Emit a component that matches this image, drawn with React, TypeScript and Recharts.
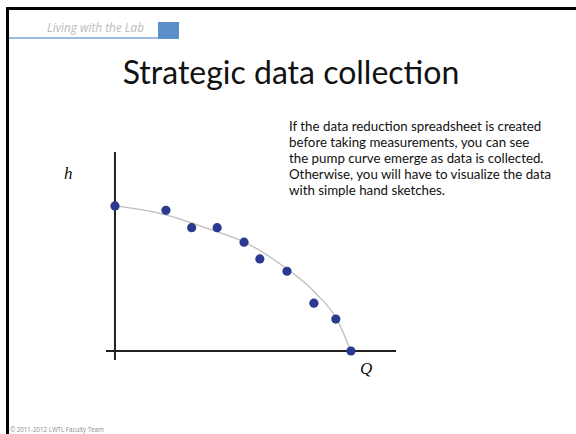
import { ComposedChart, Line, Scatter, XAxis, YAxis, ReferenceLine } from "recharts";

// measured points (flow Q, head h)
const flowQ = [0, 2.16, 3.25, 4.33, 5.47, 6.14, 7.29, 8.43, 9.36, 10];
const headH = [10, 9.7, 8.5, 8.5, 7.5, 6.35, 5.5, 3.3, 2.2, 0];

// hand sketched pump curve
const curveQ = [0, 2, 4, 5.5, 7, 8.5, 9.4, 10];
const curveH = [10, 9.45, 8.4, 7.5, 6.0, 4.0, 2.2, 0];

const titleText = "Strategic data collection";
const headerText = "Living with the Lab";
const footerText = "© 2011-2012 LWTL Faculty Team";
const noteLines = [
    "If the data reduction spreadsheet is created",
    "before taking measurements, you can see",
    "the pump curve emerge as data is collected.",
    "Otherwise, you will have to visualize the data",
    "with simple hand sketches."
];

const points = flowQ.map((q, i) => ({ q, h: headH[i] }));
const curve = curveQ.map((q, i) => ({ q, h: curveH[i] }));

const W = 576;
const H = 434;

export default function App() {
    return (
        <div style={{ position: "absolute", left: 0, top: 0, width: W, height: H, background: "#fff", overflow: "hidden" }}>
            {/* slide frame */}
            <div style={{ position: "absolute", left: 6, top: 7, width: W - 6, height: 3, background: "#000" }} />
            <div style={{ position: "absolute", left: 6, top: 7, width: 3, height: H - 7, background: "#000" }} />

            {/* header */}
            <div style={{ position: "absolute", left: 9, top: 37, width: 149, height: 2, background: "#9dbce3" }} />
            <div style={{ position: "absolute", left: 158, top: 22, width: 21, height: 17, background: "#5b8fc9" }} />
            <div style={{ position: "absolute", left: 47, top: 19, fontFamily: "'Open Sans'", fontStyle: "italic", fontSize: 11.8, color: "#bbbbbb", whiteSpace: "nowrap" }}>
                {headerText}
            </div>

            <div style={{ position: "absolute", left: 6, width: W - 6, top: 52, textAlign: "center", fontFamily: "Lato", fontSize: 32, color: "#111", whiteSpace: "nowrap" }}>
                {titleText}
            </div>

            <div style={{ position: "absolute", left: 289, top: 118, fontFamily: "Lato", fontSize: 13.3, lineHeight: "16px", color: "#111", whiteSpace: "nowrap" }}>
                {noteLines.map((t) => (
                    <div key={t}>{t}</div>
                ))}
            </div>

            <div style={{ position: "absolute", left: 64, top: 164, fontFamily: "'Liberation Serif'", fontStyle: "italic", fontSize: 17, color: "#111" }}>h</div>
            <div style={{ position: "absolute", left: 360, top: 359, fontFamily: "'Liberation Serif'", fontStyle: "italic", fontSize: 17, color: "#111" }}>Q</div>

            <div style={{ position: "absolute", left: 10, top: 425, fontFamily: "'Open Sans'", fontSize: 6.2, color: "#8a8a8a", whiteSpace: "nowrap" }}>
                {footerText}
            </div>

            <div style={{ position: "absolute", left: 0, top: 0 }}>
                <ComposedChart width={W} height={H} margin={{ left: 106, right: 180, top: 152, bottom: 74 }}>
                    <XAxis type="number" dataKey="q" domain={[-0.38, 11.91]} allowDataOverflow hide />
                    <YAxis type="number" dataKey="h" domain={[-0.62, 13.72]} allowDataOverflow hide />
                    <ReferenceLine x={0} stroke="#231f20" strokeWidth={2} />
                    <ReferenceLine y={0} stroke="#231f20" strokeWidth={2} />
                    <Line
                        data={curve}
                        dataKey="h"
                        type="monotone"
                        stroke="#bdbdbd"
                        strokeWidth={1.3}
                        dot={false}
                        activeDot={false}
                        isAnimationActive={false}
                    />
                    <Scatter
                        data={points}
                        dataKey="h"
                        isAnimationActive={false}
                        shape={(p: any) => <circle cx={p.cx} cy={p.cy} r={4.6} fill="#2b3990" />}
                    />
                </ComposedChart>
            </div>
        </div>
    );
}
